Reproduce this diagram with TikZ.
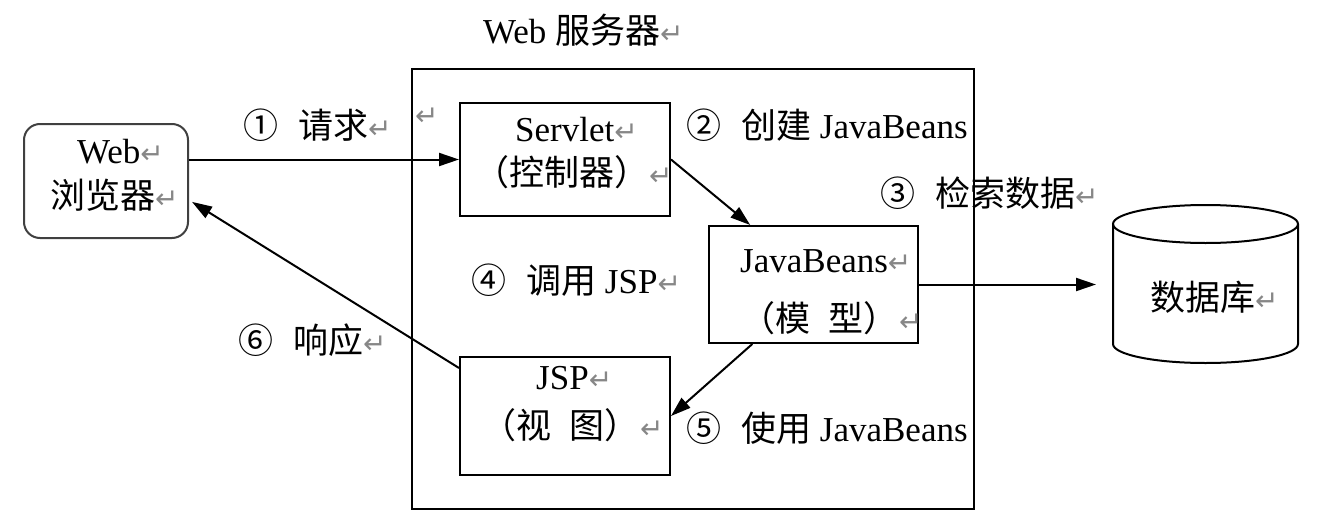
\documentclass[tikz,border=0pt]{standalone}
\usepackage{fontspec}
\setmainfont{Liberation Serif}
\newfontfamily\cjk{Noto Sans CJK SC}
\newfontfamily\cjkh[RawFeature=+halt]{Noto Sans CJK SC}
\newfontfamily\djv{DejaVu Sans}
\usetikzlibrary{arrows.meta,calc}
\definecolor{retgray}{RGB}{135,135,135}
\newcommand\retmark{{\djv\fontsize{28}{28}\selectfont\color{retgray}↵}}
\tikzset{
  box/.style={draw,line width=2pt,inner sep=0,anchor=north west},
  txt/.style={anchor=west,inner sep=0,font=\fontsize{35}{40}\selectfont},
  arr/.style={line width=2pt,-{Triangle[length=20pt,width=13pt]}},
}
\begin{document}
\begin{tikzpicture}[x=1pt,y=-1pt]
\useasboundingbox (0,0) rectangle (1330,522);
% boxes
\node[box,minimum width=562pt,minimum height=440pt] (server) at (411,68) {};
\node[box,draw=black!75,rounded corners=16pt,minimum width=164pt,minimum height=114pt] (browser) at (23,123) {};
\node[box,minimum width=210pt,minimum height=113pt] (servlet) at (459,102) {};
\node[box,minimum width=209pt,minimum height=117pt] (jb) at (708,225) {};
\node[box,minimum width=210pt,minimum height=118pt] (jsp) at (459,356) {};
\node[inner sep=0,anchor=north west,minimum width=185pt,minimum height=158pt] (db) at (1113,205) {};
% database cylinder
\draw[line width=2pt] (1113,224) -- (1113,344) arc[start angle=180,end angle=0,x radius=92.5,y radius=19] -- (1298,224);
\draw[line width=2pt] (1205.5,224) ellipse [x radius=92.5,y radius=19];
% texts
\node[txt] (title) at (483,30) {Web {\cjk 服务器}\retmark};
\node[txt] (bw1) at (77,152) {Web\retmark};
\node[txt] (bw2) at (50,195) {{\cjk 浏览器}\retmark};
\node[txt] (l1) at (243,125) {{\cjk ①\hspace{20pt}请求}\retmark};
\node[txt] (stray) at (415,117) {\retmark};
\node[txt] (sv1) at (515,130) {Servlet\retmark};
\node[txt] (sv2) at (492,172) {{\cjkh （控制器）}\hspace{17pt}\retmark};
\node[txt] (l2) at (686,125) {{\cjk ②\hspace{20pt}创建} JavaBeans};
\node[txt] (l3) at (880,193) {{\cjk ③\hspace{20pt}检索数据}\retmark};
\node[txt] (jb1) at (740,261) {JavaBeans\retmark};
\node[txt] (jb2) at (758,318) {{\cjkh （模\hspace{18pt}型）}\hspace{18pt}\retmark};
\node[txt] (l4) at (471,280) {{\cjk ④\hspace{20pt}调用} JSP\retmark};
\node[txt] (js1) at (536,378) {JSP\retmark};
\node[txt] (js2) at (499,425) {{\cjkh （视\hspace{18pt}图）}\hspace{18pt}\retmark};
\node[txt] (l5) at (686,428) {{\cjk ⑤\hspace{20pt}使用} JavaBeans};
\node[txt] (l6) at (238,340) {{\cjk ⑥\hspace{20pt}响应}\retmark};
\node[txt] (dbt) at (1150,297) {{\cjk 数据库}\retmark};
% connectors
\draw[arr] (browser.east |- servlet.west) -- (servlet.west);
\draw[arr] (servlet.east) -- ($(jb.north west)!0.2!(jb.north east)$);
\draw[arr,shorten >=17pt] (jb.east) -- (db.west |- jb.east);
\draw[arr] ($(jb.south west)!0.21!(jb.south east)$) -- (jsp.east);
\draw[arr] ($(jsp.north west)!0.1!(jsp.south west)$) -- ($(browser.north east)!0.68!(browser.south east)+(3,0)$);
\end{tikzpicture}
\end{document}
